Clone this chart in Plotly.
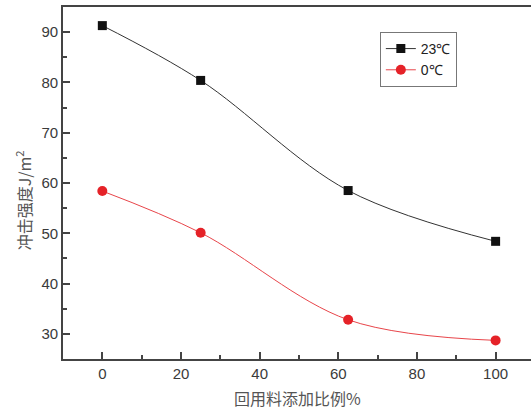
import plotly.graph_objects as go

x_vals = [0, 25, 62.5, 100]
y_23 = [91.3, 80.4, 58.5, 48.4]
y_0 = [58.4, 50.1, 32.8, 28.7]
series_names = ["23℃", "0℃"]
x_title = "回用料添加比例%"
y_title = "冲击强度J/m<sup>2</sup>"

fig = go.Figure()
fig.add_trace(go.Scatter(
    x=x_vals, y=y_23, name=series_names[0], mode="lines+markers",
    line=dict(color="#333333", width=1, shape="spline", smoothing=1),
    marker=dict(symbol="square", size=9, color="#111111"),
))
fig.add_trace(go.Scatter(
    x=x_vals, y=y_0, name=series_names[1], mode="lines+markers",
    line=dict(color="#e8454a", width=1, shape="spline", smoothing=1),
    marker=dict(symbol="circle", size=10, color="#e52228"),
))

axis_font = dict(family="Liberation Sans, Arial", size=15, color="#3a3a3a")
fig.update_layout(
    width=531, height=409,
    margin=dict(l=63, r=0, t=7, b=50),
    paper_bgcolor="white", plot_bgcolor="white",
    showlegend=True,
    legend=dict(
        x=0.677, y=0.929, xanchor="left", yanchor="top",
        bordercolor="#777777", borderwidth=1, bgcolor="white",
        font=dict(family="Liberation Sans, Arial", size=14, color="#222222"),
        tracegroupgap=0, itemwidth=30,
    ),
    xaxis=dict(
        range=[-10, 109], tickmode="array", tickvals=[0, 20, 40, 60, 80, 100],
        ticks="inside", ticklen=7, tickwidth=1.5, tickcolor="#444444",
        minor=dict(ticks="inside", ticklen=4, dtick=10, tick0=0, tickcolor="#444444", tickwidth=1.5),
        showline=True, linecolor="#444444", linewidth=1.5, mirror=True,
        showgrid=False, zeroline=False, tickfont=axis_font, automargin=False,
    ),
    yaxis=dict(
        range=[25, 95], tickmode="array", tickvals=[30, 40, 50, 60, 70, 80, 90],
        ticks="inside", ticklen=7, tickwidth=1.5, tickcolor="#444444",
        minor=dict(ticks="inside", ticklen=4, dtick=5, tick0=0, tickcolor="#444444", tickwidth=1.5),
        showline=True, linecolor="#444444", linewidth=1.8,
        showgrid=False, zeroline=False, tickfont=axis_font, automargin=False,
    ),
    annotations=[
        dict(text=x_title, xref="paper", yref="paper", x=0.5, y=-0.11,
             xanchor="center", yanchor="middle", showarrow=False,
             font=dict(family="Noto Sans CJK SC", size=16, color="#555555")),
        dict(text=y_title, xref="paper", yref="paper", x=-0.084, y=0.45,
             xanchor="center", yanchor="middle", showarrow=False, textangle=-90,
             font=dict(family="Noto Sans CJK SC", size=16, color="#555555")),
    ],
)

fig.write_html(
    "out.html",
    config={"displayModeBar": False},
    post_script="document.body.style.margin='0';document.body.style.overflow='hidden';",
)
